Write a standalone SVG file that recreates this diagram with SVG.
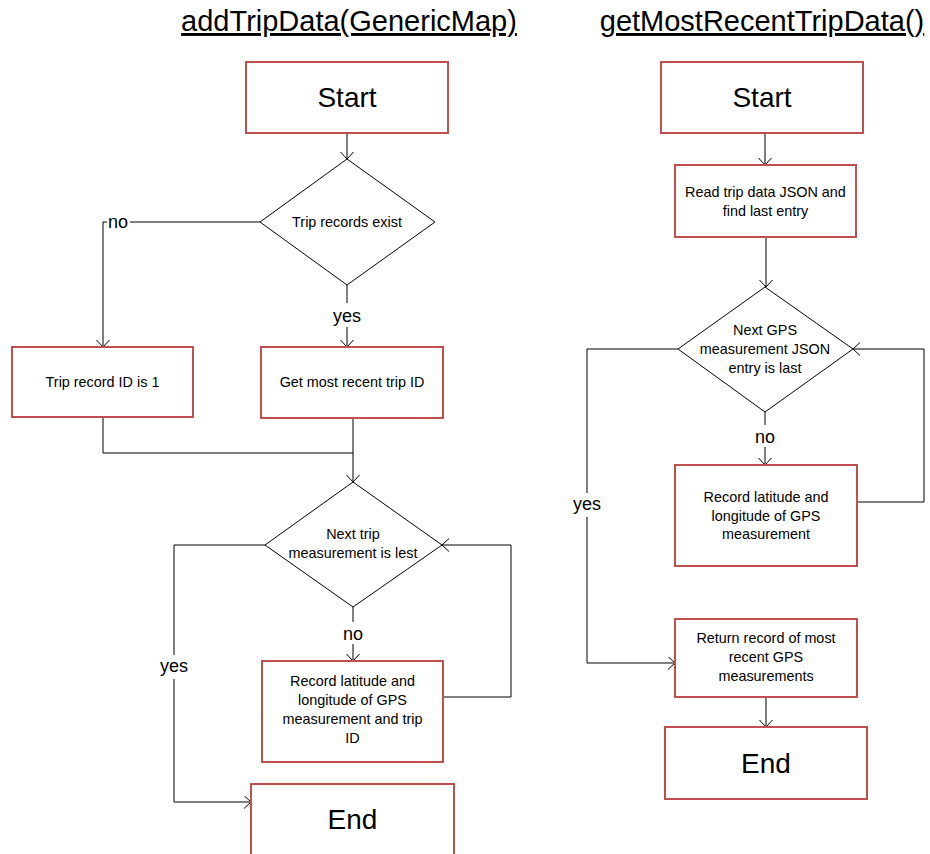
<svg xmlns="http://www.w3.org/2000/svg" width="930" height="854" viewBox="0 0 930 854">
<style>
.box{fill:#fff;stroke:#c0504d;stroke-width:2}
.dia{fill:#fff;stroke:#000;stroke-width:1}
.ln{fill:none;stroke:#000;stroke-width:1}
text{font-family:"Liberation Sans",Arial,sans-serif;fill:#000;text-anchor:middle}
.t{font-size:14.4px}
.big{font-size:28px}
.lbl{font-size:18px}
.title{font-size:29px;text-decoration:underline}
.bg{fill:#fff}
</style>
<defs>
<marker id="ar" markerUnits="userSpaceOnUse" markerWidth="16" markerHeight="16" refX="7" refY="6.5" orient="auto">
<path d="M0,0 L7,6.5 L0,13" fill="none" stroke="#000" stroke-width="1"/>
</marker>
</defs>
<rect width="930" height="854" fill="#fff"/>
<text class="title" x="349" y="31">addTripData(GenericMap)</text>
<text class="title" x="762" y="31">getMostRecentTripData()</text>

<g id="connectors">
<path class="ln" d="M347,133 V159" marker-end="url(#ar)"/>
<path class="ln" d="M260,222 H103 V347" marker-end="url(#ar)"/>
<path class="ln" d="M347,285 V347" marker-end="url(#ar)"/>
<path class="ln" d="M103,417 V453 H353"/>
<path class="ln" d="M353,418 V482" marker-end="url(#ar)"/>
<path class="ln" d="M353,607 V661" marker-end="url(#ar)"/>
<path class="ln" d="M443,697 H511 V545 H442" marker-end="url(#ar)"/>
<path class="ln" d="M265,545 H174 V802 H251" marker-end="url(#ar)"/>
<path class="ln" d="M765,133 V165" marker-end="url(#ar)"/>
<path class="ln" d="M766,237 V287" marker-end="url(#ar)"/>
<path class="ln" d="M765,412 V465" marker-end="url(#ar)"/>
<path class="ln" d="M857,502 H924 V349 H853" marker-end="url(#ar)"/>
<path class="ln" d="M678,349 H587 V663 H675" marker-end="url(#ar)"/>
<path class="ln" d="M766,697 V727" marker-end="url(#ar)"/>
<rect class="bg" x="107" y="212" width="23" height="20"/>
<text class="lbl" x="118" y="228">no</text>
<rect class="bg" x="332" y="303" width="30" height="24"/>
<text class="lbl" x="347" y="322">yes</text>
<rect class="bg" x="341" y="622" width="24" height="22"/>
<text class="lbl" x="353" y="640">no</text>
<rect class="bg" x="159" y="655" width="30" height="24"/>
<text class="lbl" x="174" y="672">yes</text>
<rect class="bg" x="753" y="425" width="24" height="22"/>
<text class="lbl" x="765" y="443">no</text>
<rect class="bg" x="572" y="493" width="30" height="24"/>
<text class="lbl" x="587" y="510">yes</text>
</g>

<g id="start1"><rect class="box" x="246" y="62" width="202" height="71"/><text class="big" x="347" y="107">Start</text></g>
<g id="dec1"><polygon class="dia" points="347,159 435,222 347,285 260,222"/><text class="t" x="347" y="227">Trip records exist</text></g>
<g id="idone"><rect class="box" x="12" y="347" width="181" height="70"/><text class="t" x="102.5" y="387">Trip record ID is 1</text></g>
<g id="getrecent"><rect class="box" x="261" y="347" width="182" height="71"/><text class="t" x="352" y="387">Get most recent trip ID</text></g>
<g id="dec2"><polygon class="dia" points="353,482 442,545 353,607 265,545"/><text class="t" x="353" y="539">Next trip</text><text class="t" x="353" y="558">measurement is lest</text></g>
<g id="record1"><rect class="box" x="262" y="661" width="181" height="101"/><text class="t" x="352.5" y="686">Record latitude and</text><text class="t" x="352.5" y="705">longitude of GPS</text><text class="t" x="352.5" y="724">measurement and trip</text><text class="t" x="352.5" y="743">ID</text></g>
<g id="end1"><rect class="box" x="251" y="784" width="203" height="80"/><text class="big" x="352.5" y="829">End</text></g>

<g id="start2"><rect class="box" x="661" y="62" width="202" height="71"/><text class="big" x="762" y="107">Start</text></g>
<g id="read"><rect class="box" x="675" y="165" width="181" height="72"/><text class="t" x="765.5" y="197">Read trip data JSON and</text><text class="t" x="765.5" y="216">find last entry</text></g>
<g id="dec3"><polygon class="dia" points="765,287 853,349 765,412 678,349"/><text class="t" x="765" y="335">Next GPS</text><text class="t" x="765" y="354">measurement JSON</text><text class="t" x="765" y="373">entry is last</text></g>
<g id="record2"><rect class="box" x="675" y="465" width="182" height="101"/><text class="t" x="766" y="502">Record latitude and</text><text class="t" x="766" y="521">longitude of GPS</text><text class="t" x="766" y="539">measurement</text></g>
<g id="return"><rect class="box" x="675" y="619" width="182" height="78"/><text class="t" x="766" y="643">Return record of most</text><text class="t" x="766" y="662">recent GPS</text><text class="t" x="766" y="681">measurements</text></g>
<g id="end2"><rect class="box" x="665" y="727" width="202" height="72"/><text class="big" x="766" y="773">End</text></g>
</svg>
